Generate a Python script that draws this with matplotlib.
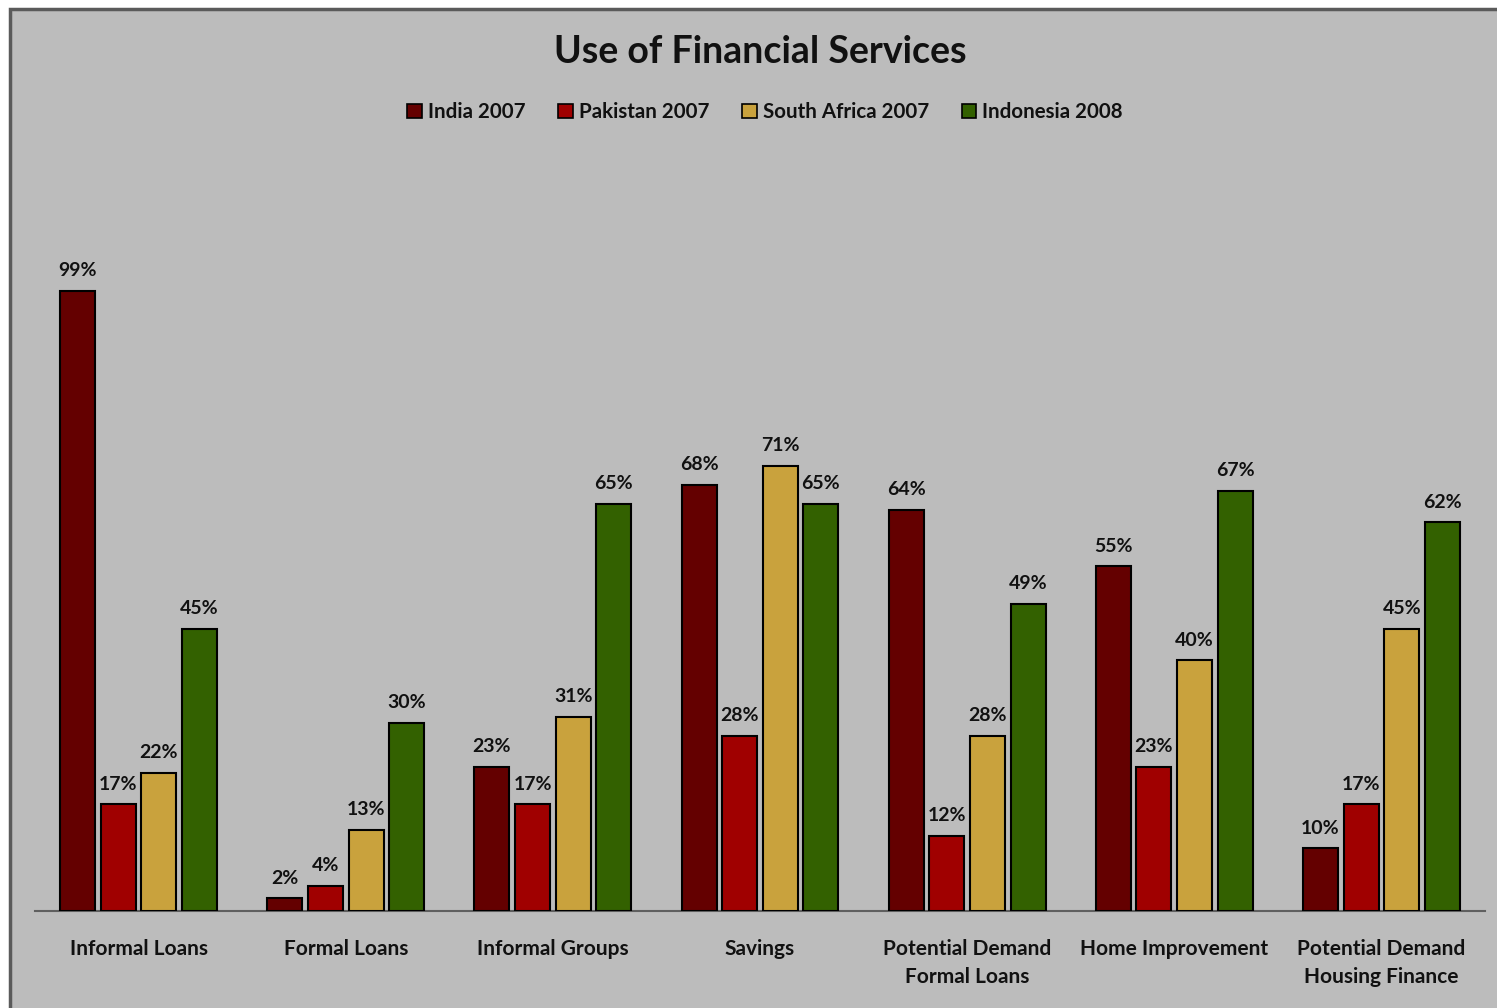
import matplotlib
matplotlib.use("Agg")
import matplotlib.pyplot as plt
from matplotlib.patches import Patch, Rectangle
import numpy as np

categories = ["Informal Loans", "Formal Loans", "Informal Groups", "Savings",
              "Potential Demand\nFormal Loans", "Home Improvement",
              "Potential Demand\nHousing Finance"]
series_names = ["India 2007", "Pakistan 2007", "South Africa 2007", "Indonesia 2008"]
india = [99, 2, 23, 68, 64, 55, 10]
pakistan = [17, 4, 17, 28, 12, 23, 17]
south_africa = [22, 13, 31, 71, 28, 40, 45]
indonesia = [45, 30, 65, 65, 49, 67, 62]
colors = ["#640000", "#a00000", "#c9a23d", "#336100"]

plt.rcParams['font.family'] = ['Lato', 'DejaVu Sans']
bg = "#bcbcbc"
fig = plt.figure(figsize=(14.97, 10.08), dpi=100, facecolor="white")
# outer frame
fig.patches.append(Rectangle((10/1497, -0.02), 1.1, (1008-9)/1008 + 0.02,
                             transform=fig.transFigure, facecolor=bg,
                             edgecolor="#5a5a5a", linewidth=2.5, zorder=-10))
ax = fig.add_axes([35/1497, 97/1008, 1450/1497, 752/1008])
ax.set_zorder(2)
ax.set_facecolor("none")

data = [india, pakistan, south_africa, indonesia]
x = np.arange(len(categories))
step = 0.196
width = 0.169
for i, (vals, name, c) in enumerate(zip(data, series_names, colors)):
    pos = x + (i - 1.5) * step
    bars = ax.bar(pos, vals, width=width, color=c, edgecolor="black",
                  linewidth=1.5, label=name, zorder=3)
    for b, v in zip(bars, vals):
        ax.annotate(f"{v}%", (b.get_x() + b.get_width()/2, v),
                    xytext=(0, 8.5), textcoords="offset points",
                    ha="center", va="bottom", fontsize=14, fontweight="bold",
                    color="#111111")

ax.set_xlim(-0.5, 6.5)
ax.set_ylim(0, 120)
for s in ["top", "right", "left"]:
    ax.spines[s].set_visible(False)
ax.spines["bottom"].set_color("#5f5f5f")
ax.spines["bottom"].set_linewidth(1.5)
ax.set_yticks([])
ax.set_xticks(x)
ax.set_xticklabels(categories, fontsize=15, fontweight="bold", linespacing=1.45,
                   color="#111111")
ax.tick_params(axis="x", length=0, pad=20.5)

fig.text(760/1497, 1 - 52/1008, "Use of Financial Services", ha="center",
         va="center", fontsize=27, fontweight="bold", color="#111111")

handles = [Patch(facecolor=c, edgecolor="black", linewidth=1.2) for c in colors]
leg = fig.legend(handles, series_names, loc="center", ncol=4,
                 bbox_to_anchor=(765/1497, 1 - 112/1008), frameon=False,
                 handlelength=0.7, handleheight=0.7, handletextpad=0.3,
                 columnspacing=1.6, prop={"size": 14.8, "weight": "bold"})
for t in leg.get_texts():
    t.set_color("#111111")

fig.savefig("out.png", dpi=100, facecolor="white")
